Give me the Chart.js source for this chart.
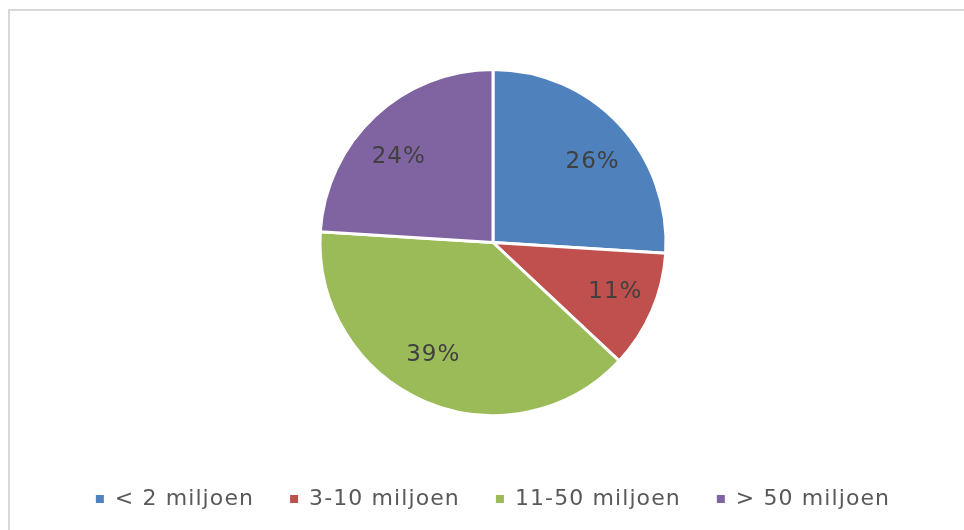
<!DOCTYPE html>
<html>
<head>
<meta charset="utf-8">
<script src="https://cdn.jsdelivr.net/npm/chart.js@4.4.1/dist/chart.umd.min.js"></script>
<style>
  html, body { margin: 0; padding: 0; background: #fff; }
  #c { display: block; }
</style>
</head>
<body>
<canvas id="c" width="964" height="530"></canvas>
<script>
// Share of organisations per size class (percent)
const categories = ['< 2 miljoen', '3-10 miljoen', '11-50 miljoen', '> 50 miljoen'];
const shares = [26, 11, 39, 24];
const sliceColors = ['#4F81BD', '#C0504D', '#9BBB59', '#8064A2'];

const FONT = '"DejaVu Sans", Verdana, sans-serif';

// Wider tracking for the legend text
const tracking = {
  id: 'tracking',
  beforeLayout(chart) { chart.ctx.letterSpacing = '1.1px'; },
  beforeDraw(chart) { chart.ctx.letterSpacing = '1.1px'; }
};

// Light grey frame along the top and left of the chart
const frame = {
  id: 'frame',
  beforeDraw(chart) {
    const ctx = chart.ctx;
    ctx.save();
    ctx.strokeStyle = '#d9d9d9';
    ctx.lineWidth = 2;
    ctx.beginPath();
    ctx.moveTo(9, chart.height + 5);
    ctx.lineTo(9, 10);
    ctx.lineTo(chart.width + 5, 10);
    ctx.stroke();
    ctx.restore();
  }
};

// Percentage labels inside each slice, nudged horizontally away from the centre
const sliceLabels = {
  id: 'sliceLabels',
  afterDatasetsDraw(chart) {
    const ctx = chart.ctx;
    const meta = chart.getDatasetMeta(0);
    ctx.save();
    ctx.font = '23px ' + FONT;
    ctx.letterSpacing = '1px';
    ctx.fillStyle = '#404040';
    ctx.textAlign = 'center';
    ctx.textBaseline = 'middle';
    meta.data.forEach((arc, i) => {
      const p = arc.getProps(['x', 'y', 'startAngle', 'endAngle', 'outerRadius'], true);
      const mid = (p.startAngle + p.endAngle) / 2;
      const r = p.outerRadius * 0.695;
      const cx = Math.cos(mid), cy = Math.sin(mid);
      const lx = p.x + cx * r + Math.sign(cx) * 12;
      const ly = p.y + cy * r + 2;
      ctx.fillText(shares[i] + '%', lx, ly);
    });
    ctx.restore();
  }
};

new Chart(document.getElementById('c'), {
  type: 'pie',
  data: {
    labels: categories,
    datasets: [{
      data: shares,
      backgroundColor: sliceColors,
      borderColor: '#ffffff',
      borderWidth: 3,
      hoverOffset: 0
    }]
  },
  options: {
    responsive: false,
    animation: false,
    layout: { padding: { top: 68, bottom: 10, left: 22, right: 0 } },
    plugins: {
      tooltip: { enabled: false },
      legend: {
        position: 'bottom',
        title: { display: true, text: '', font: { size: 10 }, padding: { top: 23, bottom: 0 } },
        labels: {
          font: { family: FONT, size: 22 },
          color: '#595959',
          boxWidth: 8,
          boxHeight: 8,
          padding: 36,
          generateLabels(chart) {
            const items = Chart.overrides.doughnut.plugins.legend.labels.generateLabels(chart);
            items.forEach(it => { it.lineWidth = 0; it.strokeStyle = it.fillStyle; });
            return items;
          }
        }
      }
    }
  },
  plugins: [frame, tracking, sliceLabels]
});
</script>
</body>
</html>
